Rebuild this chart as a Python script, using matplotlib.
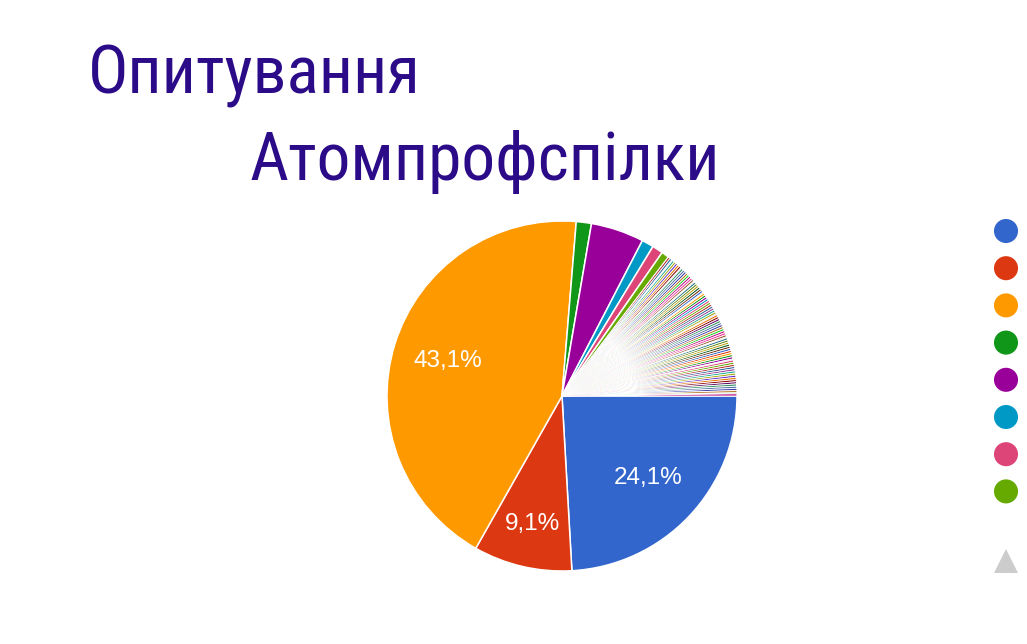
import matplotlib
matplotlib.use("Agg")
import matplotlib.pyplot as plt
from matplotlib import font_manager

# ======================================================
# Дані
# ======================================================

main_shares = [24.1, 9.1, 43.1, 1.4, 4.9, 1.1, 1.0, 0.7]

tiny_shares = [
    0.2, 0.2, 0.1, 0.2, 0.2, 0.2, 0.2, 0.2, 0.1, 0.2,
    0.2, 0.2, 0.2, 0.2, 0.2, 0.2, 0.2, 0.1, 0.2, 0.2,
    0.2, 0.2, 0.2, 0.2, 0.1, 0.2, 0.2, 0.2, 0.2, 0.2,
    0.2, 0.2, 0.2, 0.2, 0.2, 0.2, 0.1, 0.2, 0.2, 0.2,
    0.2, 0.2, 0.2, 0.2, 0.2, 0.2, 0.2, 0.2, 0.1, 0.2,
    0.2, 0.2, 0.2, 0.2, 0.2, 0.2, 0.2, 0.2, 0.2, 0.1,
    0.2, 0.2, 0.2, 0.2, 0.2, 0.2, 0.2, 0.2, 0.2, 0.2,
    0.2, 0.2, 0.2, 0.2, 0.2, 0.1, 0.2,
]

title_lines = ["Опитування", "Атомпрофспілки"]

palette = [
    "#3366cc", "#dc3912", "#ff9900", "#109618", "#990099", "#0099c6",
    "#dd4477", "#66aa00", "#b82e2e", "#316395", "#994499", "#22aa99",
    "#aaaa11", "#6633cc", "#e67300", "#8b0707", "#651067", "#329262",
    "#5574a6", "#3b3eac", "#b77322", "#16d620", "#b91383", "#f4359e",
    "#9c5935", "#a9c413", "#2a778d", "#668d1c", "#bea413", "#0c5922",
    "#743411",
]

# ======================================================
# Фігура
# ======================================================

W, H = 1027, 644
fig = plt.figure(figsize=(W / 100, H / 100), dpi=100)
fig.patch.set_facecolor("white")

ax = fig.add_axes([0, 0, 1, 1])

values = main_shares + tiny_shares
colors = [palette[i % len(palette)] for i in range(len(values))]

cx, cy, R = 562, H - 396, 175


def fmt(pct):
    if pct < 5:
        return ""
    return f"{pct:.1f}".replace(".", ",") + "%"


wedges, texts, autotexts = ax.pie(
    values,
    colors=colors,
    startangle=0,
    counterclock=False,
    center=(cx, cy),
    radius=R,
    autopct=fmt,
    pctdistance=0.68,
    wedgeprops=dict(edgecolor="white", linewidth=1.1),
    textprops=dict(color="white", fontsize=17.5, family="Liberation Sans"),
)

# дрібні сектори з тоншою білою межею
for w in wedges[len(main_shares):]:
    w.set_linewidth(0.65)

# мітка червоного сектора трохи далі від центру
x, y = autotexts[1].get_position()
autotexts[1].set_position((cx + (x - cx) * 0.75 / 0.68, cy + (y - cy) * 0.75 / 0.68))

ax.set_xlim(0, W)
ax.set_ylim(0, H)
ax.set_aspect("equal")
ax.axis("off")

# ======================================================
# Легенда (обрізана)
# ======================================================

for i in range(8):
    ax.scatter(1006, H - (231 + i * 37.2), s=300, color=palette[i],
               edgecolors="none", zorder=5)

ax.plot(1006, H - 561, marker="^", markersize=17, color="#cccccc",
        markeredgewidth=0, zorder=5)

# ======================================================
# Заголовок
# ======================================================

names = {f.name for f in font_manager.fontManager.ttflist}
title_font = ["Roboto Condensed", "PT Sans Narrow", "Liberation Sans"]
title_font = [f for f in title_font if f in names] or ["DejaVu Sans"]

fig.text(88 / W, 1 - 93 / H, title_lines[0], fontsize=48.5,
         color="#2c0b88", family=title_font, va="baseline", ha="left")
fig.text(250 / W, 1 - 180 / H, title_lines[1], fontsize=48.5,
         color="#2c0b88", family=title_font, va="baseline", ha="left")

fig.savefig("out.png", dpi=100, facecolor="white")
